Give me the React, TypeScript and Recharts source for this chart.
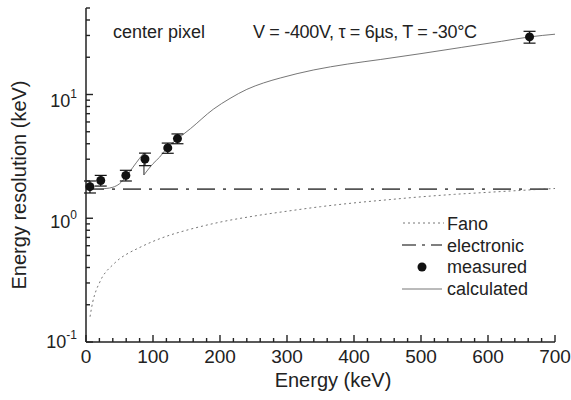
import React from "react";
import { ComposedChart, Line, Scatter, ErrorBar, XAxis, YAxis } from "recharts";

// energy axis (keV)
const energyTicks = [
  0, 20, 40, 60, 80, 100, 120, 140, 160, 180, 200, 220, 240, 260, 280, 300, 320, 340, 360, 380,
  400, 420, 440, 460, 480, 500, 520, 540, 560, 580, 600, 620, 640, 660, 680, 700,
];
// resolution axis (keV, log)
const resTicks = [
  0.1, 0.2, 0.3, 0.4, 0.5, 0.6, 0.7, 0.8, 0.9, 1, 2, 3, 4, 5, 6, 7, 8, 9, 10, 20, 30, 40, 50,
];
const resMajor = [0.1, 1, 10];
const resExp: Record<string, string> = { "0.1": "-1", "1": "0", "10": "1" };

const fanoE = [6, 10, 15, 20, 25, 30, 40, 50, 60, 80, 100, 125, 150, 200, 250, 300, 350, 400, 450, 500, 550, 600, 650, 700];
const fanoR = [0.16, 0.21, 0.26, 0.3, 0.34, 0.37, 0.42, 0.47, 0.51, 0.58, 0.65, 0.73, 0.8, 0.93, 1.04, 1.14, 1.24, 1.33, 1.41, 1.49, 1.56, 1.62, 1.68, 1.74];

const elecE = [0, 700];
const elecR = [1.72, 1.72];

// calculated curve, below and above the step near 86.5 keV
const calcLowE = [0, 10, 20, 30, 40, 50, 60, 70, 80, 86.5];
const calcLowR = [1.7, 1.71, 1.72, 1.74, 1.78, 1.9, 2.18, 2.58, 3.05, 3.37];
const calcStepE = [86.5, 86.5];
const calcStepR = [3.37, 2.24];
const calcHighE = [86.5, 100, 110, 121, 136, 156, 190, 215, 240, 265, 290, 340, 390, 440, 500, 560, 620, 662, 700];
const calcHighR = [2.24, 2.76, 3.12, 3.7, 4.35, 5.3, 7.6, 9.3, 11.0, 12.4, 13.6, 15.8, 17.6, 19.2, 21.4, 24.0, 26.9, 29.2, 30.7];

const measE = [5.9, 22, 59.5, 88, 122, 136.5, 662];
const measR = [1.8, 2.02, 2.22, 3.01, 3.7, 4.4, 29.2];
const measErr = [0.2, 0.2, 0.22, 0.35, 0.35, 0.4, 3.2];

const zip = (xs: number[], ys: number[]) => xs.map((x, i) => ({ x, y: ys[i] }));
const fano = zip(fanoE, fanoR);
const electronic = zip(elecE, elecR);
const calcLow = zip(calcLowE, calcLowR);
const calcStep = zip(calcStepE, calcStepR);
const calcHigh = zip(calcHighE, calcHighR);
const measured = measE.map((x, i) => ({ x, y: measR[i], err: measErr[i] }));

const font = '"Liberation Sans", Arial, Helvetica, sans-serif';
const ink = "#222";
const calcColor = "#666";

function BottomTick({ x, y, payload }: any) {
  const major = payload.value % 100 === 0;
  return (
    <g>
      <line x1={x} y1={y} x2={x} y2={y - (major ? 7 : 4)} stroke={ink} strokeWidth={1.4} />
      {major && (
        <text x={x} y={y + 21} textAnchor="middle" fontSize={19} fontFamily={font} fill={ink}>
          {payload.value}
        </text>
      )}
    </g>
  );
}

function TopTick({ x, y, payload }: any) {
  const major = payload.value % 100 === 0;
  return <line x1={x} y1={y} x2={x} y2={y + (major ? 7 : 4)} stroke={ink} strokeWidth={1.4} />;
}

const labelDrop: Record<string, number> = { "0.1": 6, "1": 10, "10": 13 };

function LeftTick({ x, y, payload }: any) {
  const major = resMajor.includes(payload.value);
  const key = String(payload.value);
  return (
    <g>
      <line x1={x} y1={y} x2={x + (major ? 7 : 4)} y2={y} stroke={ink} strokeWidth={1.4} />
      {major && (
        <text x={x - 9} y={y + labelDrop[key]} textAnchor="end" fontSize={18} fontFamily={font} fill={ink}>
          10
          <tspan dy={-9} fontSize={12}>
            {resExp[key]}
          </tspan>
        </text>
      )}
    </g>
  );
}

function RightTick({ x, y, payload }: any) {
  const major = resMajor.includes(payload.value);
  return <line x1={x} y1={y} x2={x - (major ? 7 : 4)} y2={y} stroke={ink} strokeWidth={1.4} />;
}

const Dot = (p: any) => <circle cx={p.cx} cy={p.cy} r={4.5} fill="#111" />;

export default function App() {
  return (
    <div style={{ position: "absolute", left: 0, top: 0, width: 571, height: 400, background: "#fff" }}>
      <ComposedChart width={571} height={400} margin={{ top: 8, right: 16, bottom: 0, left: 0 }}>
        <XAxis
          dataKey="x"
          type="number"
          domain={[0, 700]}
          ticks={energyTicks}
          interval={0}
          height={58}
          tickSize={0}
          tickMargin={0}
          tick={<BottomTick />}
          axisLine={{ stroke: ink, strokeWidth: 1.5 }}
        />
        <XAxis
          xAxisId="top"
          orientation="top"
          dataKey="x"
          type="number"
          domain={[0, 700]}
          ticks={energyTicks}
          interval={0}
          height={0}
          tickSize={0}
          tickMargin={0}
          tick={<TopTick />}
          axisLine={{ stroke: ink, strokeWidth: 1.5 }}
        />
        <YAxis
          type="number"
          scale="log"
          domain={[0.1, 50]}
          allowDataOverflow
          ticks={resTicks}
          interval={0}
          width={86}
          tickSize={0}
          tickMargin={0}
          tick={<LeftTick />}
          axisLine={{ stroke: ink, strokeWidth: 1.5 }}
        />
        <YAxis
          yAxisId="right"
          orientation="right"
          type="number"
          scale="log"
          domain={[0.1, 50]}
          allowDataOverflow
          ticks={resTicks}
          interval={0}
          width={0}
          tickSize={0}
          tickMargin={0}
          tick={<RightTick />}
          axisLine={{ stroke: ink, strokeWidth: 1.5 }}
        />
        <Line data={fano} dataKey="y" type="monotone" stroke="#777" strokeWidth={1} strokeDasharray="2 3" dot={false} isAnimationActive={false} />
        <Line data={electronic} dataKey="y" type="linear" stroke="#555" strokeWidth={1.6} strokeDasharray="18 8 3 8" dot={false} isAnimationActive={false} />
        <Line data={calcLow} dataKey="y" type="monotone" stroke={calcColor} strokeWidth={0.9} dot={false} isAnimationActive={false} />
        <Line data={calcStep} dataKey="y" type="linear" stroke="#333" strokeWidth={1.1} dot={false} isAnimationActive={false} />
        <Line data={calcHigh} dataKey="y" type="monotone" stroke={calcColor} strokeWidth={0.9} dot={false} isAnimationActive={false} />
        <Scatter data={measured} dataKey="y" shape={Dot} isAnimationActive={false}>
          <ErrorBar dataKey="err" direction="y" width={6} stroke="#111" strokeWidth={1.2} />
        </Scatter>
      </ComposedChart>
      <svg width={571} height={400} style={{ position: "absolute", left: 0, top: 0, pointerEvents: "none" }} fontFamily={font} fill={ink}>
        <text x={113} y={38} fontSize={18}>center pixel</text>
        <text x={253} y={38} fontSize={18} textLength={224} lengthAdjust="spacing">
          V = -400V, τ = 6µs, T = -30°C
        </text>
        <line x1={403} y1={223} x2={444} y2={223} stroke="#777" strokeWidth={1} strokeDasharray="2 3" />
        <text x={447} y={230} fontSize={18}>Fano</text>
        <line x1={402} y1={245} x2={442} y2={245} stroke="#555" strokeWidth={1.6} strokeDasharray="14 6 3 6" />
        <text x={447} y={252} fontSize={18}>electronic</text>
        <circle cx={422} cy={267} r={4.5} fill="#111" />
        <text x={447} y={273} fontSize={18}>measured</text>
        <line x1={402} y1={289} x2={442} y2={289} stroke={calcColor} strokeWidth={0.9} />
        <text x={447} y={295} fontSize={18}>calculated</text>
        <text x={333} y={387} fontSize={20} textAnchor="middle">Energy (keV)</text>
        <text x={26} y={185} fontSize={20} textAnchor="middle" transform="rotate(-90, 26, 185)">
          Energy resolution (keV)
        </text>
      </svg>
    </div>
  );
}
